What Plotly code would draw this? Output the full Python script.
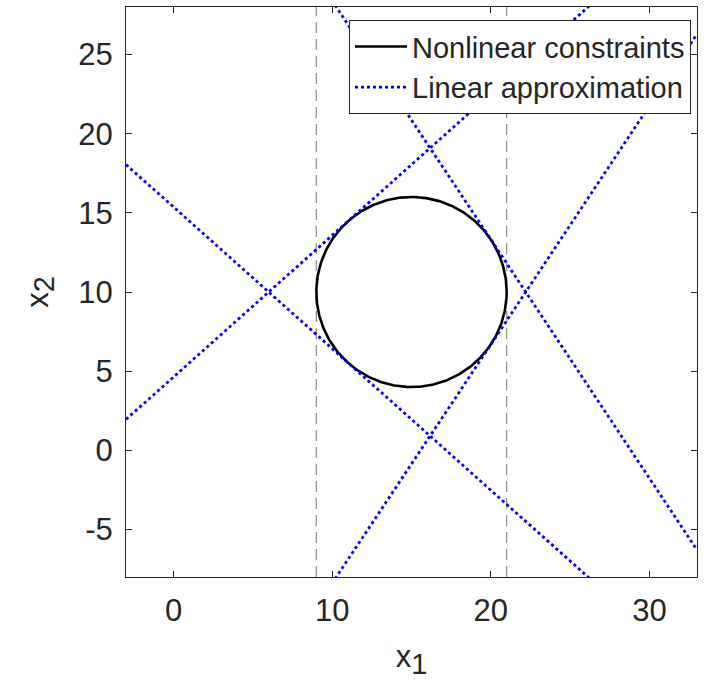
import numpy as np
import plotly.graph_objects as go

# Data
circle_center = (15.0, 10.0)
circle_radius = 6.0
bound_x = [9, 21]                      # vertical dashed bounds
# Linear approximations: lines y = y0 + slope*(x - x0)
line_x0 = [6.0, 6.0, 22.2, 22.2]
line_y0 = [10.0, 10.0, 10.0, 10.0]
line_slope = [0.894, -0.894, 1.508, -1.508]
x_range = [-3, 33]
y_range = [-8, 28]
x_ticks = [0, 10, 20, 30]
x_ticklabels = ["0", "10", "20", "30"]
y_ticks = [-5, 0, 5, 10, 15, 20, 25]
y_ticklabels = ["-5", "0", "5", "10", "15", "20", "25"]

FONT = "Liberation Sans, Arial, Helvetica, sans-serif"
TXT = "#262626"
fig = go.Figure()

# vertical dashed lines
for bx in bound_x:
    fig.add_trace(go.Scatter(x=[bx, bx], y=y_range, mode="lines",
                             line=dict(color="#8c8c8c", width=1.2, dash="11px,6px"),
                             showlegend=False, hoverinfo="skip"))

# circle
th = np.linspace(0, 2 * np.pi, 400)
fig.add_trace(go.Scatter(x=circle_center[0] + circle_radius * np.cos(th),
                         y=circle_center[1] + circle_radius * np.sin(th),
                         mode="lines", line=dict(color="black", width=2.6),
                         name="Nonlinear constraints"))

# linear approximations
for i, (x0, y0, s) in enumerate(zip(line_x0, line_y0, line_slope)):
    xs = np.array(x_range, dtype=float)
    ys = y0 + s * (xs - x0)
    fig.add_trace(go.Scatter(x=xs, y=ys, mode="lines",
                             line=dict(color="#0000ff", width=2.8, dash="dot"),
                             name="Linear approximation", showlegend=(i == 0)))

axis_common = dict(showgrid=False, zeroline=False, showline=True, linecolor=TXT,
                   linewidth=1, mirror="ticks", ticks="inside", ticklen=6,
                   tickcolor=TXT, tickfont=dict(family=FONT, size=31, color=TXT))

sub = "<sub><span style='font-size:29px'>{}</span></sub>"
fig.update_xaxes(range=x_range, tickvals=x_ticks, ticktext=x_ticklabels, **axis_common,
                 ticklabelstandoff=6,
                 title=dict(text="x" + sub.format("1"), font=dict(family=FONT, size=31, color=TXT), standoff=18))
fig.update_yaxes(range=y_range, tickvals=y_ticks, ticktext=y_ticklabels, **axis_common,
                 ticklabelstandoff=6,
                 title=dict(text="x" + sub.format("2"), font=dict(family=FONT, size=31, color=TXT), standoff=20))

fig.update_layout(
    width=708, height=687,
    margin=dict(l=126, r=11, t=7, b=110),
    plot_bgcolor="white", paper_bgcolor="white",
    font=dict(family=FONT, color=TXT),
    legend=dict(x=0.9895, y=0.977, xanchor="right", yanchor="top",
                bgcolor="white", bordercolor=TXT, borderwidth=1,
                font=dict(family=FONT, size=29, color=TXT),
                tracegroupgap=0, itemwidth=52),
)

fig.write_html("out.html")
